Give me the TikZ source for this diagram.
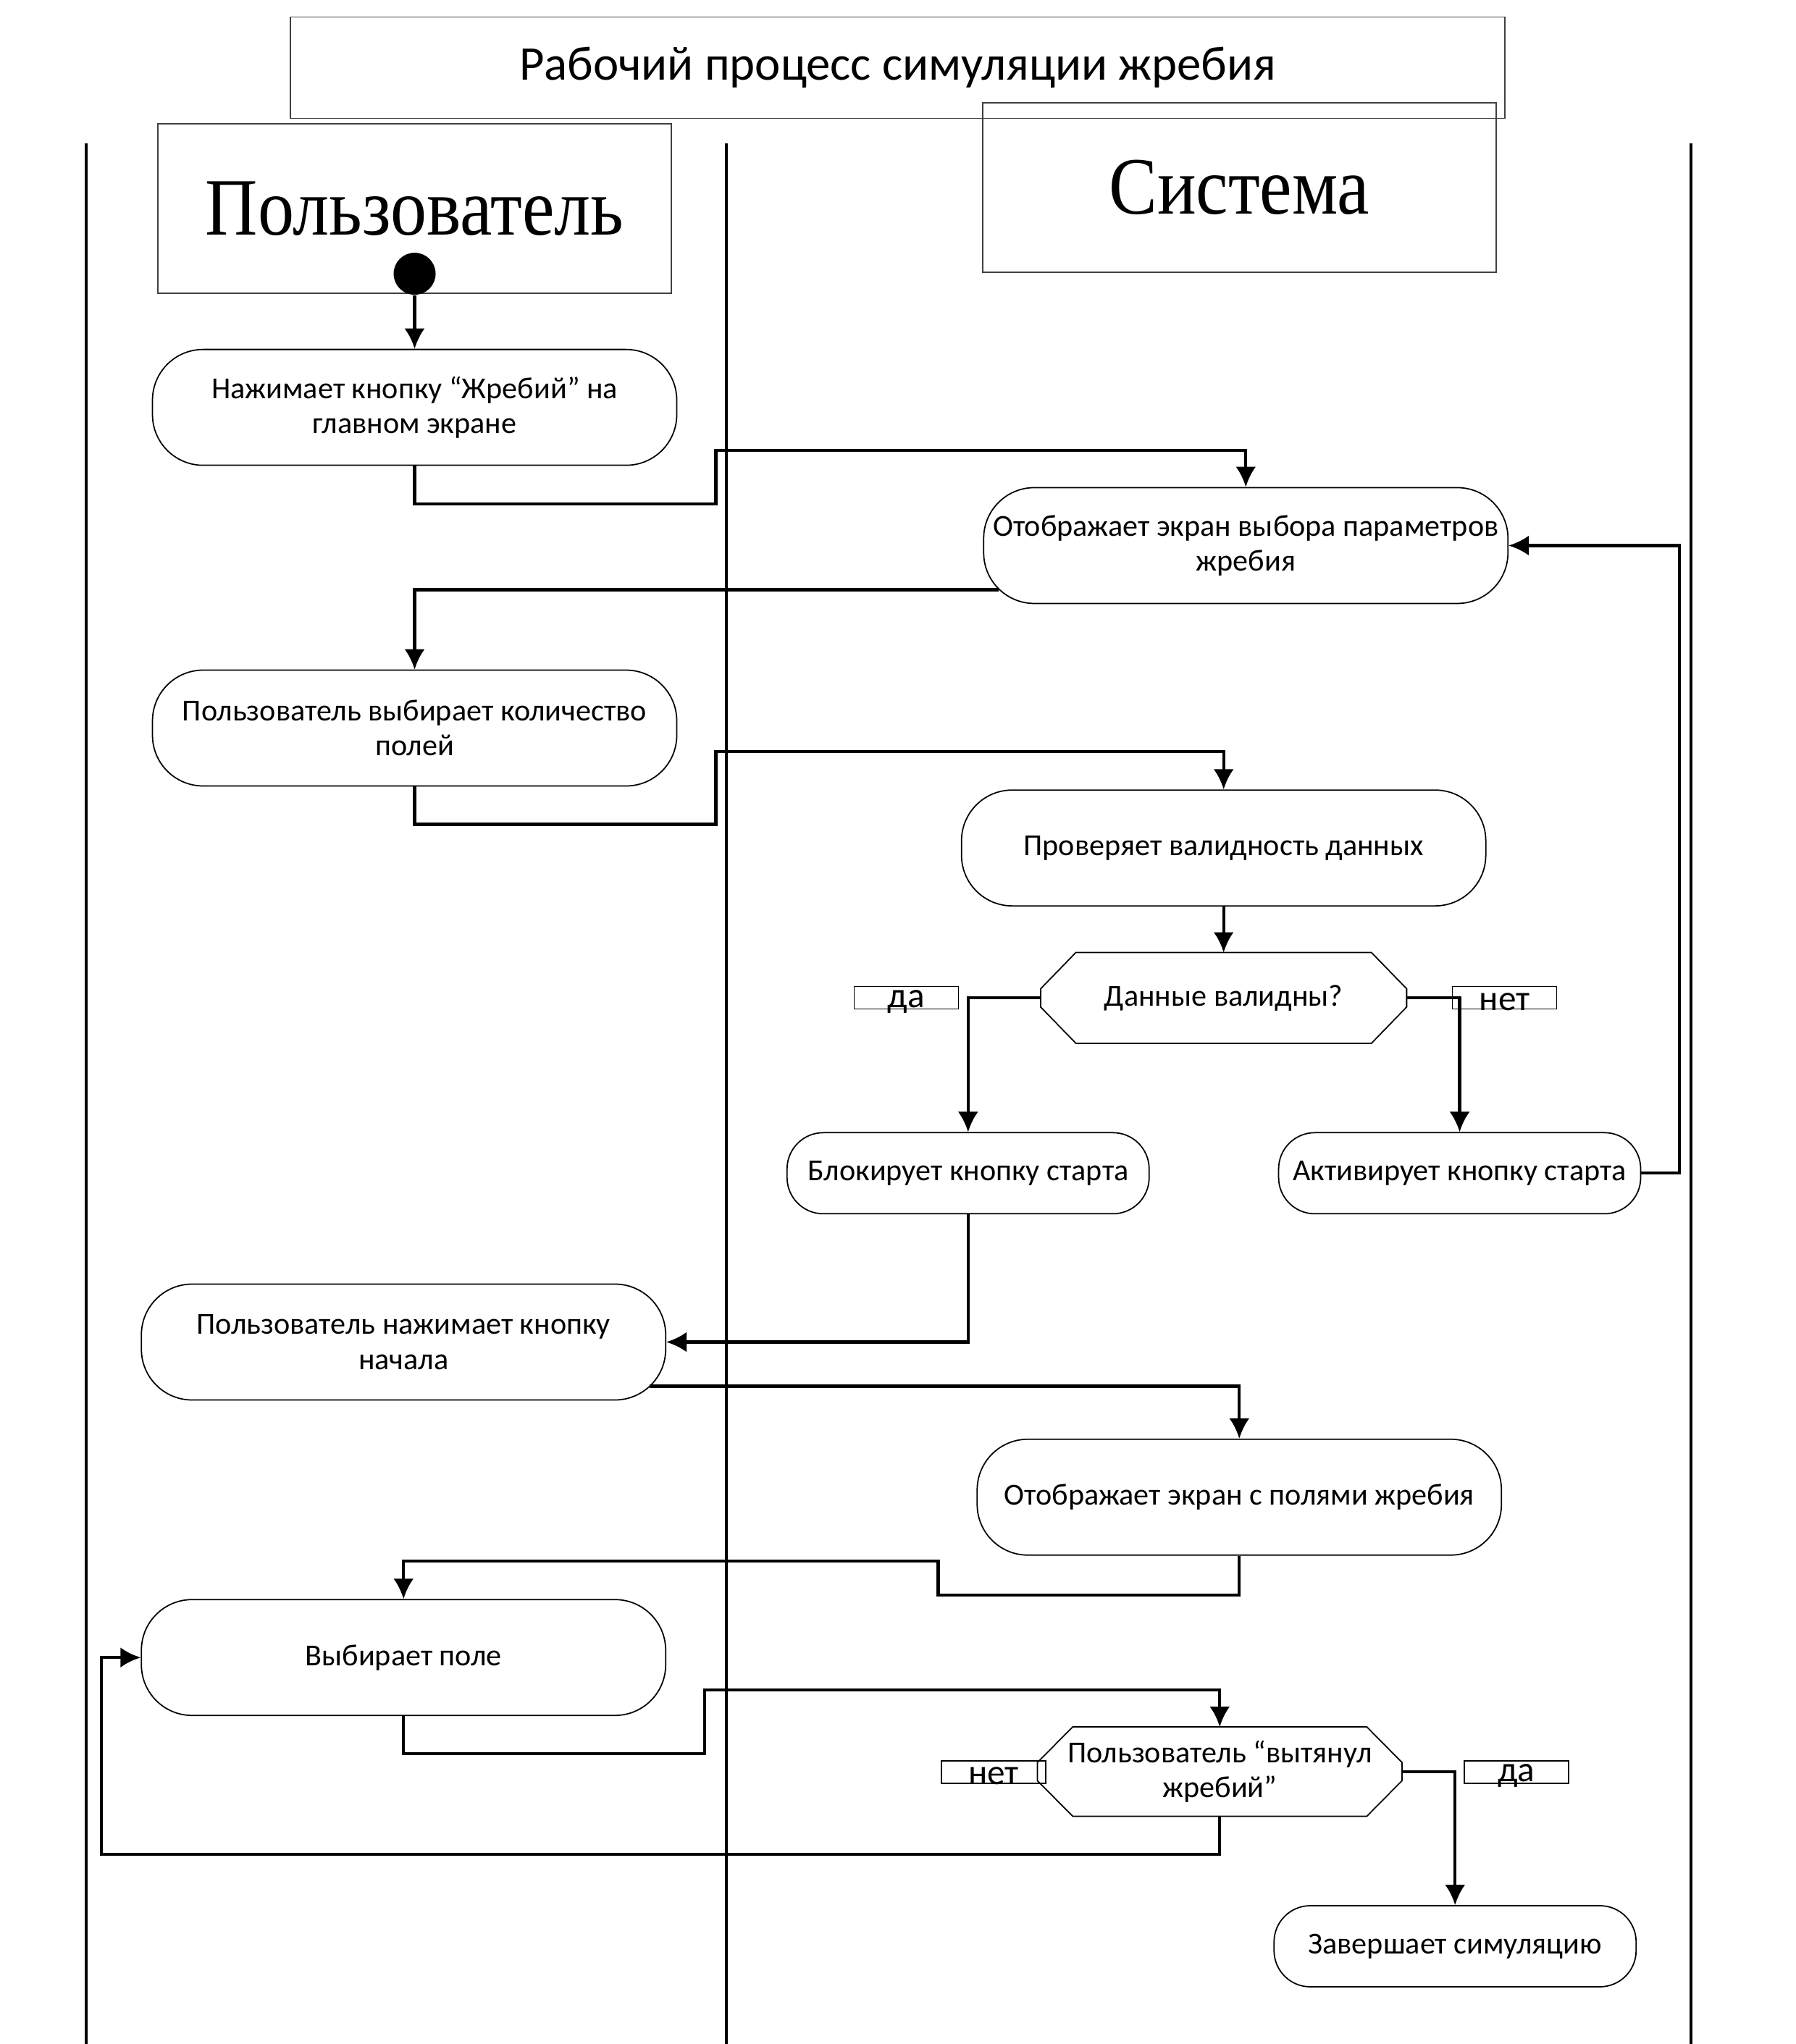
\documentclass[tikz,border=0pt]{standalone}
\usepackage{fontspec}
\setmainfont{Carlito}
\newfontfamily\laneserif{Liberation Serif}
\usetikzlibrary{arrows.meta,calc}

\tikzset{%
  >={Latex[length=2.8mm,width=2.8mm]},
  act/.style={draw,line width=0.5pt,rounded corners=0.7cm,minimum width=7.24cm,
    minimum height=1.6cm,align=center,font=\fontsize{12}{13.8}\selectfont},
  actsmall/.style={act,rounded corners=0.5cm,minimum width=5cm,minimum height=1.12cm},
  dec/.style={minimum width=5.04cm,minimum height=1.24cm,inner sep=0pt,align=center,
    font=\fontsize{12}{13.8}\selectfont},
  head/.style={draw=black!75,line width=0.5pt,minimum width=7.09cm,minimum height=2.34cm,
    font=\laneserif\fontsize{32}{38}\selectfont},
  tag/.style={draw,line width=0.4pt,minimum width=1.44cm,minimum height=0.31cm,inner sep=0pt},
  flow/.style={line width=1.2pt,->},
  lane/.style={line width=1pt}
}

\newcommand\octa[1]{%
  \draw[line width=0.5pt] ($(#1.north west)+(27,0)$) -- ($(#1.north east)+(-27,0)$)
    -- ($(#1.east)+(0,-7)$) -- ($(#1.east)+(0,7)$) -- ($(#1.south east)+(-27,0)$)
    -- ($(#1.south west)+(27,0)$) -- ($(#1.west)+(0,7)$) -- ($(#1.west)+(0,-7)$) -- cycle;}

\begin{document}
\begin{tikzpicture}[x=0.01801cm,y=-0.01801cm]
  \useasboundingbox (0,0) rectangle (1377,1568);

  \foreach \x in {66,557,1297}
    \draw[lane] (\x,110) -- (\x,1568);

  \node[draw=black!75,line width=0.5pt,minimum width=16.77cm,minimum height=1.4cm,
    font=\fontsize{19}{23}\selectfont] (title) at (688.5,52) {Рабочий процесс симуляции жребия};
  \node[head] (huser) at (318,160) {\scalebox{0.89}[1]{Пользователь}};
  \node[head] (hsys) at (950.5,144) {\scalebox{0.89}[1]{Система}};
  \node[circle,fill,minimum size=0.58cm,inner sep=0pt] (start) at (318,210) {};

  \node[act] (b1) at (318,312.5) {Нажимает кнопку “Жребий” на\\главном экране};
  \node[act] (b2) at (955.5,418.5) {Отображает экран выбора параметров\\жребия};
  \node[act] (b3) at (318,558.5) {Пользователь выбирает количество\\полей};
  \node[act] (b4) at (938.5,650.5) {Проверяет валидность данных};
  \node[dec] (d1) at (938.5,765.5) {Данные валидны?};
  \node[actsmall] (b5) at (742.5,900) {Блокирует кнопку старта};
  \node[actsmall] (b6) at (1119.5,900) {Активирует кнопку старта};
  \node[act] (b7) at (309.5,1029.5) {Пользователь нажимает кнопку\\начала};
  \node[act] (b8) at (950.5,1148.5) {Отображает экран с полями жребия};
  \node[act] (b9) at (309.5,1271.5) {Выбирает поле};
  \node[dec,minimum width=5.02cm,minimum height=1.22cm] (d2) at (935.5,1359)
    {Пользователь “вытянул\\жребий”};
  \node[actsmall] (b10) at (1116,1493) {Завершает симуляцию};
  \octa{d1}
  \octa{d2}

  \foreach \n/\t/\x/\y in {t1/да/695/765.5, t2/нет/1154/765.5, t3/нет/762/1359.5, t4/да/1163/1359.5}
  {
    \node[tag] (\n) at (\x,\y) {};
    \node[font=\fontsize{14}{16}\selectfont,inner sep=0pt] (\n txt) at ([yshift=-1.5pt]\n.center) {\t};
  }

  \draw[flow] (start) -- (b1);
  \draw[flow] (b1.south) -- ++(0,29) -| ++(231,-41) -| (b2.north);
  \draw[flow] ($(b2.south west)+(12,-11)$) -| (b3.north);
  \draw[flow] (b3.south) -- ++(0,29) -| ++(231,-56) -| (b4.north);
  \draw[flow] (b4) -- (d1);
  \draw[flow] (d1.west) -| (b5.north);
  \draw[flow] (d1.east) -| (b6.north);
  \draw[flow] (b6.east) -- ++(29,0) |- (b2.east);
  \draw[flow] (b5.south) |- (b7.east);
  \draw[flow] ($(b7.south east)+(-13,-11)$) -| (b8.north);
  \draw[flow] (b8.south) -- ++(0,30) -| ++(-231,-26) -| (b9.north);
  \draw[flow] (b9.south) -- ++(0,29) -| ++(231,-49) -| (d2.north);
  \draw[flow] (d2.south) -- ++(0,29) -| ($(b9.west)+(-30,0)$) -- (b9.west);
  \draw[flow] (d2.east) -| (b10.north);
\end{tikzpicture}
\end{document}
